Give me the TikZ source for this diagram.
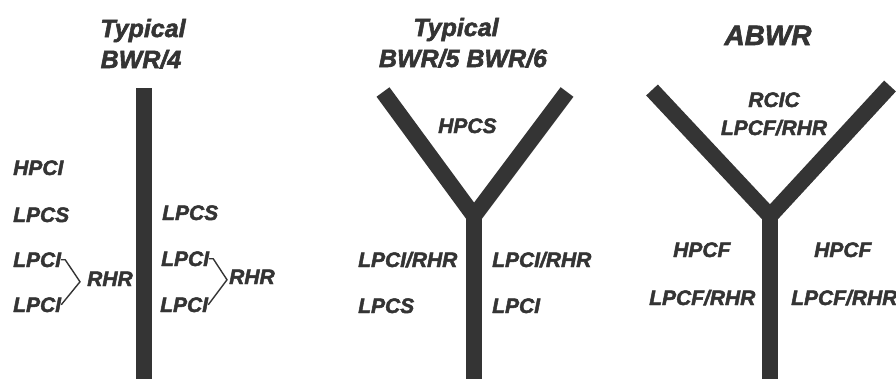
\documentclass[tikz,border=0pt]{standalone}
\usepackage{fontspec}
\setmainfont{Liberation Sans}[BoldItalicFeatures={FakeBold=2.2}]
\definecolor{ink}{RGB}{52,52,52}
\begin{document}
\begin{tikzpicture}[x=1pt,y=-1pt,
  lbl/.style={inner sep=0pt, anchor=base west, text=ink,
    font=\fontsize{21}{25}\selectfont\bfseries\itshape},
  ttl/.style={inner sep=0pt, anchor=base, text=ink,
    font=\fontsize{25}{31}\selectfont\bfseries\itshape},
  pipe/.style={draw=ink, line width=16pt, line join=miter},
  tie/.style={draw=ink, line width=1.4pt, line join=miter}]
\useasboundingbox (0,0) rectangle (896,378);

% ---------- Typical BWR/4 ----------
\node[ttl] (t1a) at (143,37) {Typical};
\node[ttl] (t1b) at (141,68) {BWR/4};
\draw[pipe] (143.5,88) -- (143.5,380);

\node[lbl] (hpci)  at (13,175) {HPCI};
\node[lbl] (lpcsL) at (13,222) {LPCS};
\node[lbl] (lpciL1) at (13,267) {LPCI};
\node[lbl] (lpciL2) at (13,312) {LPCI};
\node[lbl] (rhrL)  at (87,286) {RHR};
\coordinate (apexL) at ([xshift=-7pt,yshift=-3pt]rhrL.west);
\draw[tie] (lpciL1.east) -- ++(4,0) -- (apexL) -- (lpciL2.east);

\node[lbl] (lpcsR)  at (162,220) {LPCS};
\node[lbl] (lpciR1) at (161,266) {LPCI};
\node[lbl] (lpciR2) at (160,312) {LPCI};
\node[lbl] (rhrR)   at (229,284) {RHR};
\coordinate (apexR) at ([xshift=-2pt,yshift=-3pt]rhrR.west);
\draw[tie] (lpciR1.east) -- ++(4,0) -- (apexR) -- (lpciR2.east);

% ---------- Typical BWR/5 BWR/6 ----------
\node[ttl] (t2a) at (456,36) {Typical};
\node[ttl] (t2b) at (463,67) {BWR/5 BWR/6};
\coordinate (j2) at (474,216);
\draw[pipe] (383,92) -- (j2) -- (567,92);
\draw[pipe] (j2) -- (474,380);

\node[lbl] (hpcs)   at (438,133) {HPCS};
\node[lbl] (lrL2)   at (358,267) {LPCI/RHR};
\node[lbl] (lpcs2)  at (358,313) {LPCS};
\node[lbl] (lrR2)   at (492,267) {LPCI/RHR};
\node[lbl] (lpci2)  at (492,313) {LPCI};

% ---------- ABWR ----------
\node[ttl, font=\fontsize{28}{34}\selectfont\bfseries\itshape] (t3) at (768,45) {ABWR};
\coordinate (j3) at (770,216);
\draw[pipe] (652,90) -- (j3) -- (890,86);
\draw[pipe] (j3) -- (770,380);

\node[lbl, anchor=base] (rcic) at (774,107) {RCIC};
\node[lbl, anchor=base] (lrT3) at (774,135) {LPCF/RHR};
\node[lbl] (hpcfL) at (673,257) {HPCF};
\node[lbl] (lrL3)  at (649,305) {LPCF/RHR};
\node[lbl] (hpcfR) at (814,257) {HPCF};
\node[lbl] (lrR3)  at (791,305) {LPCF/RHR};
\end{tikzpicture}
\end{document}
